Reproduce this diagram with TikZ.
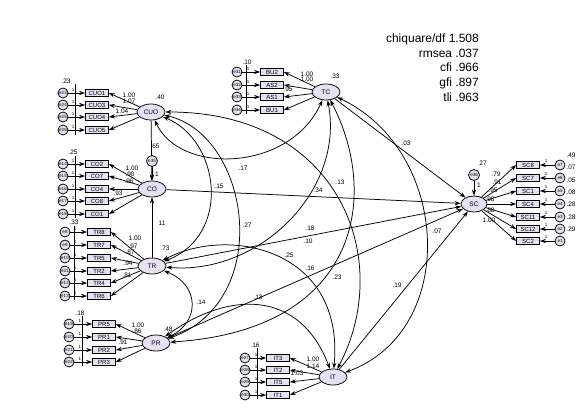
\documentclass[tikz,border=0pt]{standalone}
\usepackage{fontspec}
\setmainfont{Liberation Sans}
\usetikzlibrary{shapes.geometric, arrows.meta}
\definecolor{lav}{RGB}{230,224,243}
\tikzstyle{latent} = [ellipse, minimum width=28pt, minimum height=16pt, inner sep=0pt, draw=black, line width=0.75pt, fill=lav, font=\fontsize{6.5}{7}\selectfont]
\tikzstyle{obs} = [rectangle, minimum width=23pt, minimum height=7.5pt, inner sep=0pt, draw=black, line width=0.75pt, fill=lav, font=\fontsize{6}{6}\selectfont]
\tikzstyle{err} = [circle, minimum size=10pt, inner sep=0pt, draw=black, line width=0.75pt, fill=lav, font=\fontsize{4.5}{5}\selectfont]
\tikzstyle{arrow} = [line width=0.75pt, -{Stealth[length=6pt,width=4.2pt]}]
\tikzstyle{cov} = [line width=0.75pt, {Stealth[length=6pt,width=4.2pt]}-{Stealth[length=6pt,width=4.2pt]}]
\tikzstyle{lbl} = [inner sep=0pt, font=\fontsize{6.5}{6.5}\selectfont]
\tikzstyle{tiny_lbl} = [inner sep=0pt, font=\fontsize{4.5}{5}\selectfont]

\begin{document}
\begin{tikzpicture}[x=1pt, y=-1pt]
        \useasboundingbox (0,0) rectangle (585,414);

        % Latent variables
        \node (cuo) [latent] at (151,112) {CUO};
        \node (co) [latent] at (152,189) {CO};
        \node (tr) [latent] at (152,266) {TR};
        \node (pr) [latent] at (156,343) {PR};
        \node (tc) [latent] at (326,92) {TC};
        \node (it) [latent] at (333,377) {IT};
        \node (sc) [latent, minimum width=26pt] at (474,204) {SC};

        % Indicators
        \foreach \txt/\y/\en [count=\i] in {CUO1/93/e23, CUO3/105/e24, CUO4/117/e25, CUO5/130/e26} {
            \node (cuo_\i) [obs] at (97,\y) {\txt};
            \node (e_cuo_\i) [err] at (63,\y) {\en};
            \node (one_cuo_\i) [tiny_lbl] at (73,\y-3.5) {1};
            \draw [arrow] (e_cuo_\i) -- (cuo_\i);
            \draw [arrow] (cuo) -- (cuo_\i.east);
        }
        \foreach \txt/\y/\en [count=\i] in {CO2/164/e14, CO7/176/e15, CO4/189/e16, CO8/201/e17, CO1/214/e18} {
            \node (co_\i) [obs] at (97,\y) {\txt};
            \node (e_co_\i) [err] at (63,\y) {\en};
            \node (one_co_\i) [tiny_lbl] at (73,\y-3.5) {1};
            \draw [arrow] (e_co_\i) -- (co_\i);
            \draw [arrow] (co) -- (co_\i.east);
        }
        \foreach \txt/\y/\en [count=\i] in {TR8/232/e8, TR7/245/e9, TR5/258/e10, TR2/271/e11, TR4/283/e12, TR6/296/e13} {
            \node (tr_\i) [obs] at (99,\y) {\txt};
            \node (e_tr_\i) [err] at (65,\y) {\en};
            \node (one_tr_\i) [tiny_lbl] at (75,\y-3.5) {1};
            \draw [arrow] (e_tr_\i) -- (tr_\i);
            \draw [arrow] (tr) -- (tr_\i.east);
        }
        \foreach \txt/\y/\en [count=\i] in {PR5/324/e19, PR1/337/e20, PR2/350/e21, PR3/362/e22} {
            \node (pr_\i) [obs] at (104,\y) {\txt};
            \node (e_pr_\i) [err] at (69,\y) {\en};
            \node (one_pr_\i) [tiny_lbl] at (80,\y-3.5) {1};
            \draw [arrow] (e_pr_\i) -- (pr_\i);
            \draw [arrow] (pr) -- (pr_\i.east);
        }
        \foreach \txt/\y/\en [count=\i] in {BU2/72/e31, AS2/85/e32, AS1/97/e33, BU1/110/e34} {
            \node (tc_\i) [obs] at (272,\y) {\txt};
            \node (e_tc_\i) [err] at (237,\y) {\en};
            \node (one_tc_\i) [tiny_lbl] at (248,\y-3.5) {1};
            \draw [arrow] (e_tc_\i) -- (tc_\i);
            \draw [arrow] (tc) -- (tc_\i.east);
        }
        \foreach \txt/\y/\en [count=\i] in {IT3/358/e27, IT2/370/e28, IT5/382/e29, IT1/395/e30} {
            \node (it_\i) [obs] at (278,\y) {\txt};
            \node (e_it_\i) [err] at (245,\y) {\en};
            \node (one_it_\i) [tiny_lbl] at (256,\y-3.5) {1};
            \draw [arrow] (e_it_\i) -- (it_\i);
            \draw [arrow] (it) -- (it_\i.east);
        }
        \foreach \txt/\y/\en [count=\i] in {SC8/165/e7, SC7/178/e6, SC1/191/e5, SC4/204/e4, SC11/217/e3, SC12/229/e2, SC2/241/e1} {
            \node (sc_\i) [obs] at (528,\y) {\txt};
            \node (e_sc_\i) [err] at (560,\y) {\en};
            \node (one_sc_\i) [tiny_lbl] at (546,\y-4) {1};
            \draw [arrow] (e_sc_\i) -- (sc_\i);
            \draw [arrow] (sc) -- (sc_\i.west);
        }

        % Thin lines beside the error terms
        \draw [line width=0.3pt] (75,84) -- (75,135);
        \draw [line width=0.3pt] (75,156) -- (75,218);
        \draw [line width=0.3pt] (74,226) -- (74,300);
        \draw [line width=0.3pt] (82,316) -- (82,366);
        \draw [line width=0.3pt] (246,65) -- (246,114);
        \draw [line width=0.3pt] (257,348) -- (257,399);

        % Structural paths
        \draw [arrow] (cuo) -- (co);
        \draw [arrow] (tr) -- (co);
        \draw [arrow] (co) -- (sc);
        \draw [arrow] (tr) -- (sc);
        \draw [arrow] (pr) -- (sc);
        \draw [arrow] (tc) -- (sc);
        \draw [arrow] (it) -- (sc);

        % Residuals
        \node (e35) [err, minimum size=11pt] at (152,161) {e35};
        \draw [arrow] (e35) -- (co);
        \node (e36) [err, minimum size=11pt] at (474,175) {e36};
        \draw [arrow] (e36) -- (sc);

        % Covariances
        \draw [cov] (cuo) .. controls (180,175) and (290,172) .. (tc);
        \draw [cov] (cuo) .. controls (220,140) and (232,235) .. (tr);
        \draw [cov] (cuo) .. controls (250,135) and (275,300) .. (pr);
        \draw [cov] (cuo) .. controls (340,112) and (395,260) .. (it);
        \draw [cov] (tr) .. controls (260,275) and (345,190) .. (tc);
        \draw [cov] (tc) .. controls (380,195) and (360,330) .. (pr);
        \draw [cov] (tc) .. controls (450,150) and (460,330) .. (it);
        \draw [cov] (tr) .. controls (200,285) and (200,322) .. (pr);
        \draw [cov] (tr) .. controls (230,225) and (345,250) .. (it);
        \draw [cov] (pr) .. controls (230,290) and (300,290) .. (it);

        % Estimates
        \foreach \x/\y/\t [count=\i] in {162/223/11, 155/146/.65, 219/186/.15, 318/190/.34, 243/168/.17, 340/182/.13, 406/143/.03, 247/225/.27, 310/228/.18, 308/241/.10, 289/255/.25, 310/268/.16, 337/277/.23, 437/231/.07, 201/302/.14, 258/297/.13, 397/285/.19}
            \node (path_lbl_\i) [lbl] at (\x,\y) {\t};
        \foreach \x/\y/\t [count=\i] in {160/97/.40, 165/248/.73, 168/329/.48, 335/76/.33, 483/163/27, 66/81/.23, 73/152/.25, 74/222/.33, 80/313/.18, 247/62/.10, 255/345/.16, 571/155/.49, 157/174/1, 479/185/1}
            \node (var_lbl_\i) [lbl] at (\x,\y) {\t};
        \foreach \x/\y/\t [count=\i] in {129/95/1.00, 129/101/1.07, 122/111/1.04, 132/168/1.00, 130/174/.90, 129/181/.96, 118/193/.93, 135/238/1.00, 133/246/.97, 130/252/.87, 128/263/.94, 127/275/.81, 138/325/1.00, 137/331/.86, 123/342/.91, 307/74/1.00, 307/79/1.00, 288/89/.95, 313/359/1.00, 313/366/1.14, 297/373/1.03, 496/174/.79, 497/182/.91, 493/190/.95, 490/199/.98, 490/210/.88, 489/220/1.00}
            \node (load_lbl_\i) [lbl] at (\x,\y) {\t};
        \foreach \y/\t [count=\i] in {167/.07, 180/.05, 192/.08, 204/.28, 217/.28, 229/.29}
            \node (evar_lbl_\i) [lbl] at (571,\y) {\t};

        % Fit indices
        \node (fit) [anchor=north east, inner sep=0pt, align=right, font=\fontsize{12}{14.8}\selectfont] at (479,33.5) {chiquare/df 1.508\\rmsea .037\\cfi .966\\gfi .897\\tli .963};
    \end{tikzpicture}
\end{document}
